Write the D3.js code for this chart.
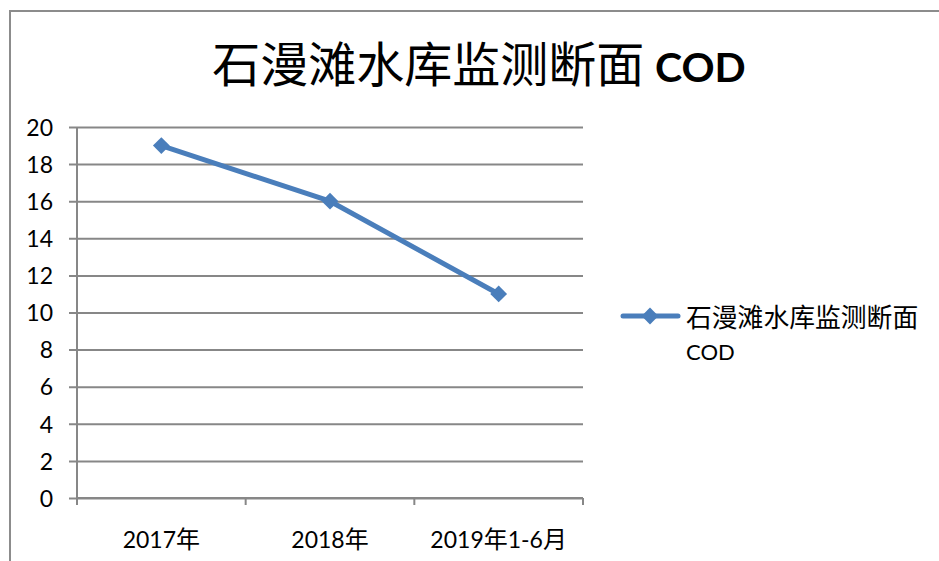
<!DOCTYPE html>
<html>
<head>
<meta charset="utf-8">
<script src="https://cdn.jsdelivr.net/npm/d3@7"></script>
<style>
  html, body { margin: 0; padding: 0; background: #fff; }
  svg { display: block; }
</style>
</head>
<body>
<svg id="chart" width="939" height="561"></svg>
<script>
// Annual COD readings at the Shimantan reservoir monitoring section
const categories = ["2017年", "2018年", "2019年1-6月"];
const codValues = [19, 16, 11];
const yTicks = [0, 2, 4, 6, 8, 10, 12, 14, 16, 18, 20];
const seriesName = "石漫滩水库监测断面";
const seriesSuffix = "COD";

const svg = d3.select("#chart");
const cjk = "'Noto Sans CJK SC', 'Noto Sans', sans-serif";
const latin = "Lato, 'Open Sans', sans-serif";
const blue = "#4A7EBB";
const grid = "#878787";

// outer chart frame
svg.append("rect")
  .attr("x", 10).attr("y", 11)
  .attr("width", 960).attr("height", 600)
  .attr("fill", "none").attr("stroke", "#8c8c8c").attr("stroke-width", 2);

const plot = { left: 77, right: 583, top: 127, bottom: 498 };

const x = d3.scaleBand().domain(categories).range([plot.left, plot.right]);
const y = d3.scaleLinear().domain([0, 20]).range([plot.bottom, plot.top]);

// horizontal gridlines with short ticks to the left
const yAxis = d3.axisLeft(y).tickValues(yTicks)
  .tickSize(-(plot.right - plot.left) - 8).tickSizeOuter(0).tickPadding(0).tickFormat(d => d);
const gy = svg.append("g").attr("transform", `translate(${plot.right},0)`);
gy.call(yAxis);
gy.select(".domain").remove();
gy.selectAll(".tick line")
  .attr("x1", plot.left - plot.right - 8).attr("x2", 0)
  .attr("stroke", grid).attr("stroke-width", 2);
gy.selectAll(".tick text")
  .attr("x", 53 - plot.right).attr("dy", "0.36em")
  .attr("font-family", latin).attr("font-size", 23).attr("fill", "#000")
  .attr("text-anchor", "end");

// vertical value axis line
svg.append("line")
  .attr("x1", plot.left).attr("x2", plot.left)
  .attr("y1", plot.top).attr("y2", plot.bottom + 7)
  .attr("stroke", grid).attr("stroke-width", 2);

// category axis with tick marks at band edges
const gx = svg.append("g").attr("transform", `translate(0,${plot.bottom})`);
gx.append("line").attr("x1", plot.left).attr("x2", plot.right)
  .attr("stroke", grid).attr("stroke-width", 2);
const edges = categories.map(c => x(c)).concat([x(categories[categories.length - 1]) + x.bandwidth()]);
gx.selectAll("line.edge").data(edges).join("line").attr("class", "edge")
  .attr("x1", d => d).attr("x2", d => d).attr("y1", 0).attr("y2", 7)
  .attr("stroke", grid).attr("stroke-width", 2);
gx.selectAll("text").data(categories).join("text")
  .attr("x", d => x(d) + x.bandwidth() / 2).attr("y", 50)
  .attr("text-anchor", "middle")
  .attr("fill", "#000")
  .each(function (d) {
    const t = d3.select(this);
    const parts = d.split(/([年月])/).filter(s => s.length);
    parts.forEach(p => {
      const isCjk = /[年月]/.test(p);
      t.append("tspan").text(p)
        .attr("font-family", isCjk ? cjk : latin)
        .attr("font-size", isCjk ? 24 : 23);
    });
  });

// series line and diamond markers
const cx = d => x(d) + x.bandwidth() / 2;
const pts = categories.map((c, i) => [cx(c), y(codValues[i])]);
svg.append("path")
  .attr("d", d3.line()(pts))
  .attr("fill", "none").attr("stroke", blue).attr("stroke-width", 5)
  .attr("stroke-linejoin", "round").attr("stroke-linecap", "round");
const diamond = d3.symbol().type(d3.symbolDiamond2).size(180);
svg.selectAll("path.mk").data(pts).join("path").attr("class", "mk")
  .attr("d", diamond)
  .attr("transform", d => `translate(${d[0]},${d[1]})`)
  .attr("fill", blue);

// title
const title = svg.append("text")
  .attr("x", 479).attr("y", 82).attr("text-anchor", "middle")
  .attr("fill", "#000");
title.append("tspan").text(seriesName + " ")
  .attr("font-family", cjk).attr("font-size", 48);
title.append("tspan").text(seriesSuffix)
  .attr("font-family", latin).attr("font-weight", "bold").attr("font-size", 41);

// legend
const lg = svg.append("g").attr("transform", "translate(623,316)");
lg.append("line").attr("x1", 0).attr("x2", 55)
  .attr("stroke", blue).attr("stroke-width", 5).attr("stroke-linecap", "round");
lg.append("path").attr("d", diamond).attr("transform", "translate(27,0)").attr("fill", blue);
lg.append("text").attr("x", 63).attr("y", 11)
  .attr("font-family", cjk).attr("font-size", 25.8).attr("fill", "#000")
  .text(seriesName);
lg.append("text").attr("x", 63).attr("y", 44)
  .attr("font-family", latin).attr("font-size", 22).attr("fill", "#000")
  .text(seriesSuffix);
</script>
</body>
</html>
